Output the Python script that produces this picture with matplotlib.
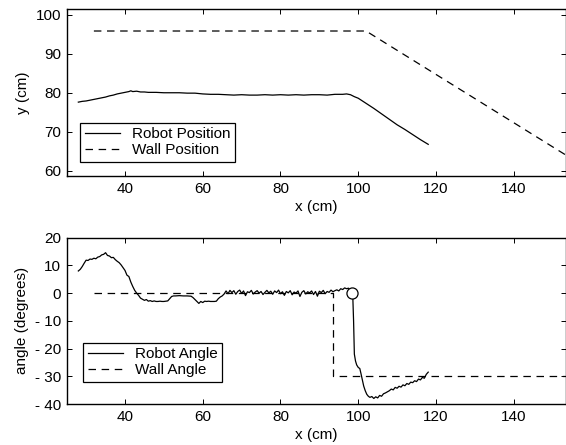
import matplotlib
matplotlib.use('Agg')
import matplotlib.pyplot as plt

plt.rcParams['font.family'] = ['Liberation Sans', 'DejaVu Sans']
plt.rcParams['font.size'] = 11

# Robot / wall position (top plot)
robot_pos_x = [28, 29, 30, 31, 32, 33, 34, 35, 36, 37, 38, 39, 40, 41, 41.5, 42, 43, 44, 45,
               46, 48, 50, 52, 54, 56, 58, 60, 62, 64, 66, 68, 70, 72, 74, 76, 78, 80,
               82, 84, 86, 88, 90, 92, 94, 96, 97, 98, 99, 100, 102, 104, 106, 108, 110,
               112, 114, 116, 118]
robot_pos_y = [77.6, 77.8, 77.9, 78.1, 78.3, 78.5, 78.7, 78.9, 79.2, 79.4, 79.7, 79.9, 80.1, 80.3, 80.5,
               80.3, 80.4, 80.2, 80.2, 80.1, 80.1, 80.0, 80.0, 80.0, 79.9, 79.9, 79.7, 79.6, 79.6, 79.5,
               79.4, 79.5, 79.4, 79.4, 79.5, 79.4, 79.5, 79.4, 79.5, 79.4, 79.5, 79.5, 79.4,
               79.6, 79.6, 79.7, 79.5, 79.0, 78.6, 77.3, 76.0, 74.6, 73.2, 71.8, 70.6,
               69.3, 68.0, 66.8]
wall_pos_x = [32, 102, 153.5]
wall_pos_y = [95.8, 95.8, 64.0]

# Robot / wall angle (bottom plot)
robot_ang_x = [28.0, 28.5, 29.0, 29.5, 30.0, 30.5, 31.0, 31.5, 32.0, 32.5, 33.0, 33.5, 34.0, 34.5,
               35.0, 35.5, 36.0, 36.5, 37.0, 37.5, 38.0, 38.5, 39.0, 39.5, 40.0, 40.5, 41.0, 41.5,
               42.0, 42.5, 43.0, 43.5, 44.0, 44.5, 45.0, 45.5, 46.0, 46.5, 47.0, 47.5, 48.0, 48.5,
               49.0, 49.5, 50.0, 50.5, 51.0, 51.5, 52.0, 52.5, 53.0, 54.0, 55.0, 56.0, 57.0, 57.5,
               58.0, 58.5, 59.0, 59.5, 60.0, 60.5, 61.0, 61.5, 62.0, 62.5, 63.0, 63.5, 64.0, 64.5,
               65.0, 65.5, 66.0, 66.5, 67.0, 67.5, 68.0, 68.5, 69.0, 69.5, 70.0, 70.5, 71.0, 71.5,
               72.0, 72.5, 73.0, 73.5, 74.0, 74.5, 75.0, 75.5, 76.0, 76.5, 77.0, 77.5, 78.0, 78.5,
               79.0, 79.5, 80.0, 80.5, 81.0, 81.5, 82.0, 82.5, 83.0, 83.5, 84.0, 84.5, 85.0, 85.5,
               86.0, 86.5, 87.0, 87.5, 88.0, 88.5, 89.0, 89.5, 90.0, 90.5, 91.0, 91.5, 92.0, 92.5,
               93.0, 93.5, 94.0, 94.5, 95.0, 95.5, 96.0, 96.5, 97.0, 97.5, 98.0, 98.6, 98.8, 99.0,
               99.3, 99.6, 100.0, 100.4, 100.7, 101.0, 101.4, 101.8, 102.2, 102.6, 103.0, 103.5,
               104.0, 104.5, 105.0, 105.5, 106.0, 106.5, 107.0, 107.5, 108.0, 108.5, 109.0, 109.5,
               110.0, 110.5, 111.0, 111.5, 112.0, 112.5, 113.0, 113.5, 114.0, 114.5, 115.0, 115.5,
               116.0, 116.5, 117.0, 117.5, 118.0]
robot_ang_y = [8.0, 8.6, 9.6, 10.8, 11.9, 11.8, 12.3, 12.2, 12.6, 12.4, 13.0, 13.2, 13.8, 14.0,
               14.6, 13.6, 13.4, 12.8, 12.9, 12.1, 11.5, 11.0, 10.2, 9.2, 8.2, 6.5, 6.0, 4.0,
               2.4, 1.0, 0.0, -0.8, -1.8, -2.2, -2.6, -2.3, -2.9, -2.7, -3.0, -2.8, -3.0, -3.0,
               -2.9, -3.0, -3.0, -2.9, -2.8, -2.0, -1.2, -1.0, -1.0, -0.9, -1.0, -1.0, -1.1, -1.6,
               -2.3, -3.0, -3.7, -3.0, -3.4, -2.9, -3.0, -2.9, -3.0, -3.0, -3.0, -2.9, -2.0, -1.4,
               -1.0, -0.3, 0.8, -0.2, 1.0, 0.2, 0.9, -0.4, 0.6, 1.1, -0.1, 0.8, -0.9, 0.5,
               0.2, 1.0, -0.3, 0.4, 0.9, 0.0, 0.6, -0.5, 0.3, 1.0, 0.1, 0.7, -0.4, 0.8,
               0.2, 1.1, -0.2, 0.5, -0.8, 0.6, 0.1, 0.9, -0.6, 0.4, 0.0, 0.8, -1.2, 0.3,
               0.9, -0.3, 0.5, 0.1, 0.8, -0.5, 0.6, -1.1, 0.7, 0.2, 1.0, -0.2, 0.6, 0.3,
               1.1, 0.5, 0.9, 1.2, 0.8, 1.6, 1.3, 1.9, 1.6, 1.8, 1.0, -1.3, -10.0, -22.0,
               -24.5, -25.9, -26.8, -27.2, -29.0, -31.0, -33.5, -35.2, -36.5, -37.2, -37.6, -37.3,
               -38.0, -37.4, -37.8, -36.9, -37.2, -36.3, -36.0, -35.6, -35.2, -34.6, -34.9, -34.0,
               -34.3, -33.6, -33.9, -33.1, -33.4, -32.6, -32.9, -32.1, -32.3, -31.6, -31.9, -31.0,
               -31.3, -30.4, -30.7, -29.3, -28.5]
wall_ang_x = [32, 93.5, 93.5, 153.5]
wall_ang_y = [0, 0, -30, -30]
marker_x = [98.3]
marker_y = [0]

x_ticks = [40, 60, 80, 100, 120, 140]
pos_ticks = [60, 70, 80, 90, 100]
ang_ticks = [-40, -30, -20, -10, 0, 10, 20]
ang_labels = ['- 40', '- 30', '- 20', '- 10', '0', '10', '20']

fig = plt.figure(figsize=(5.66, 4.45), dpi=100)
ax1 = fig.add_axes([0.1178, 0.6045, 0.8826, 0.375])
ax2 = fig.add_axes([0.1178, 0.0921, 0.8826, 0.3737])

dash = (6.0, 4.5)

ax1.plot(robot_pos_x, robot_pos_y, color='black', lw=0.9, label='Robot Position')
ax1.plot(wall_pos_x, wall_pos_y, color='black', lw=0.9, dashes=dash, label='Wall Position')
ax1.set_xlim(25, 153.5)
ax1.set_ylim(58.7, 101.4)
ax1.set_yticks(pos_ticks)
ax1.set_ylabel('y (cm)')

ax2.plot(robot_ang_x, robot_ang_y, color='black', lw=0.9, label='Robot Angle')
ax2.plot(wall_ang_x, wall_ang_y, color='black', lw=0.9, dashes=dash, label='Wall Angle')
ax2.plot(marker_x, marker_y, 'o', ms=8, mfc='white', mec='black', mew=0.9)
ax2.set_xlim(25, 153.5)
ax2.set_ylim(-40, 20)
ax2.set_yticks(ang_ticks)
ax2.set_yticklabels(ang_labels)
ax2.set_ylabel('angle (degrees)')

for ax in (ax1, ax2):
    ax.set_xticks(x_ticks)
    ax.set_xlabel('x (cm)', labelpad=3)
    ax.tick_params(direction='in', length=3.6, width=0.7, top=True, right=True, pad=4)
    for s in ax.spines.values():
        s.set_linewidth(1.0)

leg1 = ax1.legend(loc='lower left', bbox_to_anchor=(0.027, 0.084), borderaxespad=0,
                  fancybox=False, edgecolor='black', framealpha=1, handlelength=2.3,
                  borderpad=0.3, labelspacing=0.15)
leg1.get_frame().set_linewidth(0.9)
leg2 = ax2.legend(loc='lower left', bbox_to_anchor=(0.033, 0.132), borderaxespad=0,
                  fancybox=False, edgecolor='black', framealpha=1, handlelength=2.3,
                  borderpad=0.3, labelspacing=0.15)
leg2.get_frame().set_linewidth(0.9)

fig.savefig('out.png', dpi=100)
